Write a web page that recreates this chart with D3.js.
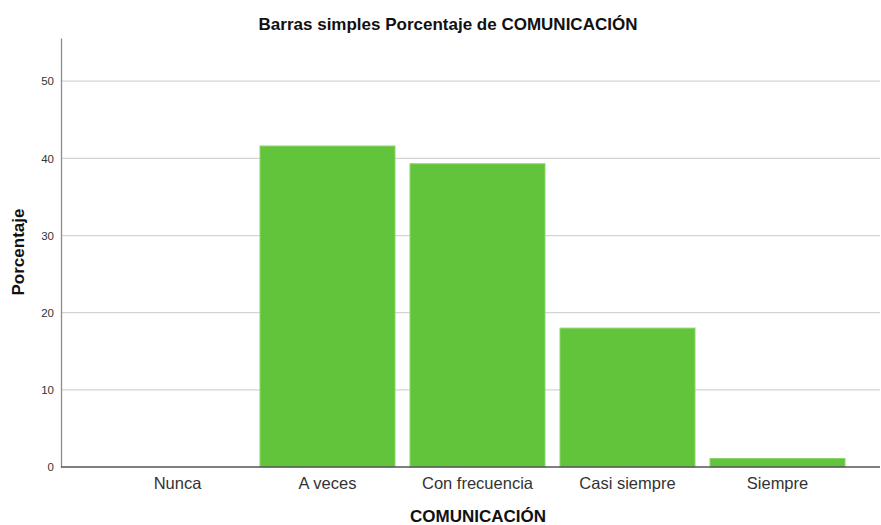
<!DOCTYPE html>
<html>
<head>
<meta charset="utf-8">
<script src="https://cdn.jsdelivr.net/npm/d3@7"></script>
<style>
  body { margin: 0; background: #fff; }
  text { font-family: "Liberation Sans", Arial, sans-serif; }
</style>
</head>
<body>
<div id="chart"></div>
<script>
var categories = ["Nunca", "A veces", "Con frecuencia", "Casi siempre", "Siempre"]
var percentages = [0, 41.6, 39.3, 18.0, 1.1]
var yTicks = [0, 10, 20, 30, 40, 50]

function drawBars(target) {
  var width = 881, height = 525
  var axisX = 61, axisTop = 38, axisRight = 880, baseY = 467

  var svg = d3.select(target).append("svg")
    .attr("width", width)
    .attr("height", height)

  var xScale = d3.scaleBand()
    .domain(categories)
    .range([102.5, 852.5])
    .paddingInner(0.1)
    .paddingOuter(0.05)

  var yScale = d3.scaleLinear()
    .domain([0, 55.6])
    .range([baseY, axisTop])

  // grid lines
  svg.append("g").selectAll("line")
    .data(yTicks.filter(t => t > 0))
    .enter().append("line")
      .attr("x1", axisX)
      .attr("x2", axisRight)
      .attr("y1", d => yScale(d))
      .attr("y2", d => yScale(d))
      .attr("stroke", "#d4d4d4")
      .attr("stroke-width", 1.3)

  // bars
  svg.append("g").selectAll("rect")
    .data(percentages)
    .enter().append("rect")
      .attr("x", (d, i) => xScale(categories[i]))
      .attr("y", d => yScale(d))
      .attr("width", xScale.bandwidth())
      .attr("height", d => baseY - yScale(d))
      .attr("fill", "#62c43a")
      .attr("stroke", d => d > 0 ? "#8bd66b" : "none")
      .attr("stroke-width", 1)

  // y axis
  var yAxis = svg.append("g")
    .attr("transform", "translate(" + axisX + ",0)")
    .call(d3.axisLeft(yScale).tickValues(yTicks).tickSize(0).tickPadding(7))
  yAxis.select(".domain").attr("stroke", "#8c8c8c").attr("stroke-width", 1.3)
  yAxis.selectAll("text")
    .attr("font-size", "11.5px")
    .attr("fill", "#333")
    .attr("font-family", "'Liberation Sans', Arial, sans-serif")

  // x axis
  var xAxis = svg.append("g")
    .attr("transform", "translate(0," + baseY + ")")
    .call(d3.axisBottom(xScale).tickSize(0).tickPadding(10))
  xAxis.select(".domain").remove()
  xAxis.selectAll("text")
    .attr("font-size", "16.5px")
    .attr("fill", "#333")
    .attr("font-family", "'Liberation Sans', Arial, sans-serif")

  svg.append("line")
    .attr("x1", axisX)
    .attr("x2", axisRight)
    .attr("y1", baseY)
    .attr("y2", baseY)
    .attr("stroke", "#555")
    .attr("stroke-width", 1.3)

  // titles
  svg.append("text")
    .attr("x", 448)
    .attr("y", 30)
    .attr("text-anchor", "middle")
    .attr("font-size", "17px")
    .attr("font-weight", "bold")
    .attr("fill", "#111")
    .text("Barras simples Porcentaje de COMUNICACIÓN")

  svg.append("text")
    .attr("x", 478)
    .attr("y", 522)
    .attr("text-anchor", "middle")
    .attr("font-size", "17px")
    .attr("font-weight", "bold")
    .attr("fill", "#111")
    .text("COMUNICACIÓN")

  svg.append("text")
    .attr("transform", "translate(24," + 252 + ") rotate(-90)")
    .attr("text-anchor", "middle")
    .attr("font-size", "17px")
    .attr("font-weight", "bold")
    .attr("fill", "#111")
    .text("Porcentaje")
}

drawBars("#chart")
</script>
</body>
</html>
